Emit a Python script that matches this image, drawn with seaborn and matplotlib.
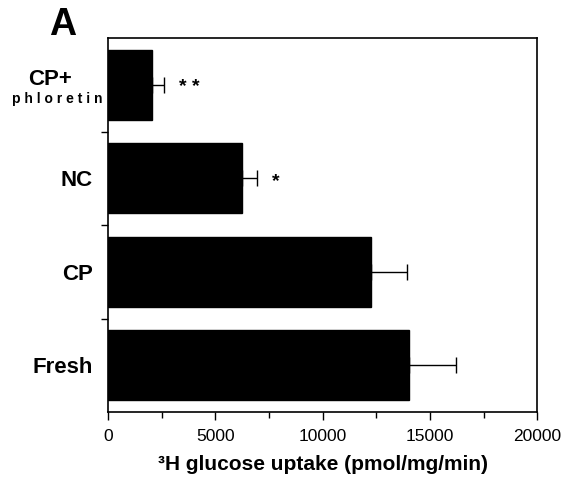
import matplotlib
matplotlib.use("Agg")
import matplotlib.pyplot as plt
from matplotlib.ticker import MultipleLocator, FixedLocator
import matplotlib.transforms as mtransforms
import pandas as pd
import seaborn as sns

groups = ["CP+ phloretin", "NC", "CP", "Fresh"]
uptake = [2050, 6250, 12250, 14020]
sem = [560, 700, 1690, 2200]
stars = ["* *", "*", "", ""]

sns.set_style("ticks")
plt.rcParams["font.family"] = ["Liberation Sans", "DejaVu Sans"]
plt.rcParams["text.color"] = "black"
plt.rcParams["xtick.color"] = "black"
plt.rcParams["ytick.color"] = "black"
plt.rcParams["axes.labelcolor"] = "black"

df = pd.DataFrame({"group": groups, "uptake": uptake})

fig = plt.figure(figsize=(5.61, 4.82), dpi=100)
ax = fig.add_axes([0.1925, 0.145, 0.765, 0.776])

sns.barplot(data=df, y="group", x="uptake", order=groups, color="black",
            width=0.75, saturation=1, ax=ax, orient="h", errorbar=None)
for p in ax.patches:
    p.set_edgecolor("black")

ypos = list(range(len(groups)))
ax.errorbar(uptake, ypos, xerr=[[0] * len(sem), sem], fmt="none",
            ecolor="black", elinewidth=1, capsize=6, capthick=1)

for y, (v, e, s) in enumerate(zip(uptake, sem, stars)):
    if s:
        ax.text(v + e + 700, y + 0.03, s, ha="left", va="center",
                fontsize=14, fontweight="bold")

ax.set_xlim(0, 20000)
ax.set_ylim(3.5, -0.5)
ax.xaxis.set_major_locator(MultipleLocator(5000))
ax.xaxis.set_minor_locator(MultipleLocator(2500))
ax.set_xticklabels([str(int(t)) for t in ax.get_xticks()], fontsize=12.5)

# ticks sit between the bars, labels centred on the bars
ax.set_yticks([0.5, 1.5, 2.5])
ax.set_yticklabels([])
ax.yaxis.set_minor_locator(FixedLocator(ypos))
ax.set_yticklabels(["", "NC", "CP", "Fresh"], minor=True,
                   fontsize=16, fontweight="bold")
ax.tick_params(axis="y", which="minor", length=0, pad=11)
ax.tick_params(axis="y", which="major", length=5, width=1)
ax.tick_params(axis="x", which="major", length=6, width=1, pad=6)
ax.tick_params(axis="x", which="minor", length=4, width=1)

trans = mtransforms.blended_transform_factory(fig.transFigure, ax.transData)
ax.text(0.089, -0.06, "CP+", transform=trans, ha="center", va="center",
        fontsize=16, fontweight="bold")
ax.text(0.1025, 0.15, "p h l o r e t i n", transform=trans, ha="center",
        va="center", fontsize=10, fontweight="bold")

for s in ax.spines.values():
    s.set_visible(True)
    s.set_linewidth(1.2)
    s.set_color("black")

ax.set_xlabel("³H glucose uptake (pmol/mg/min)", fontsize=15,
              fontweight="bold", labelpad=8)
ax.set_ylabel("")

fig.text(0.088, 0.948, "A", fontsize=27, fontweight="bold",
         ha="left", va="center")

fig.savefig("out.png", dpi=100)
